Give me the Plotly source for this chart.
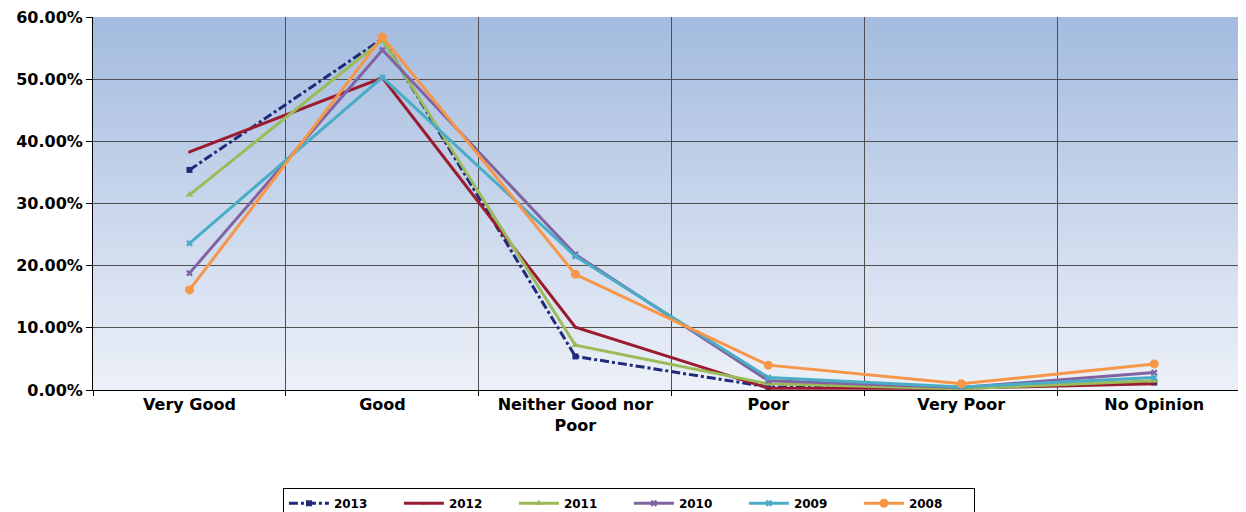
import plotly.graph_objects as go

categories = ["Very Good", "Good", "Neither Good nor<br>Poor", "Poor", "Very Poor", "No Opinion"]

y2013 = [0.354, 0.565, 0.054, 0.005, 0.003, 0.012]
y2012 = [0.383, 0.502, 0.101, 0.003, 0.003, 0.010]
y2011 = [0.314, 0.563, 0.072, 0.010, 0.002, 0.015]
y2010 = [0.188, 0.547, 0.218, 0.015, 0.004, 0.028]
y2009 = [0.236, 0.503, 0.215, 0.020, 0.005, 0.020]
y2008 = [0.161, 0.568, 0.186, 0.040, 0.010, 0.042]

series = [
    ("2013", y2013, "#1F2A7A", "dashdot", "square", 6),
    ("2012", y2012, "#9B1B30", "solid", "circle", 3),
    ("2011", y2011, "#9BBB59", "solid", "triangle-up", 7),
    ("2010", y2010, "#8064A2", "solid", "x", 6),
    ("2009", y2009, "#4BACC6", "solid", "x", 6),
    ("2008", y2008, "#F79646", "solid", "circle", 9),
]

fig = go.Figure()
for name, vals, color, dash, sym, size in series:
    fig.add_trace(go.Scatter(
        x=categories, y=vals, name=name, mode="lines+markers",
        line=dict(color=color, width=3, dash=dash),
        marker=dict(color=color, symbol=sym, size=size),
    ))

# gradient plot background: stacked rects, each one starting at the bottom
# so there are no light seams between bands
n = 40
top = (165, 188, 224)
bot = (236, 240, 248)
for i in range(n):
    t = i / (n - 1)
    c = tuple(int(top[k] + (bot[k] - top[k]) * t) for k in range(3))
    fig.add_shape(type="rect", xref="x domain", yref="y domain",
                  x0=0, x1=1, y0=0, y1=1 - i / n,
                  fillcolor="rgb(%d,%d,%d)" % c, line_width=0, layer="below")

bold = dict(family="DejaVu Sans", size=16, color="black", weight="bold")

# page body has an 8px margin, so the figure is 8px smaller
fig.update_layout(
    width=1238, height=504,
    margin=dict(l=85, r=3, t=9, b=122, autoexpand=False),
    paper_bgcolor="white",
    plot_bgcolor="rgba(0,0,0,0)",
    font=bold,
    showlegend=True,
    legend=dict(orientation="h", x=0.466, xanchor="center", y=-0.262, yanchor="top",
                bordercolor="black", borderwidth=1, bgcolor="white",
                font=dict(family="DejaVu Sans", size=12, color="black", weight="bold"),
                itemwidth=40, entrywidth=60),
)
fig.update_xaxes(
    type="category", tickson="boundaries", range=[-0.5, 5.46],
    showgrid=True, gridcolor="#505050", gridwidth=1,
    showline=True, linecolor="black", ticks="outside", ticklen=5, tickcolor="black",
    tickfont=bold, ticklabeloverflow="allow",
)
fig.update_yaxes(
    range=[0, 0.6], dtick=0.1, tickformat=".2%", showgrid=True, gridcolor="#505050", gridwidth=1,
    showline=True, linecolor="black", ticks="outside", ticklen=6, tickcolor="black",
    zeroline=False, tickfont=bold, ticklabeloverflow="allow",
)

fig.write_html("out.html")
